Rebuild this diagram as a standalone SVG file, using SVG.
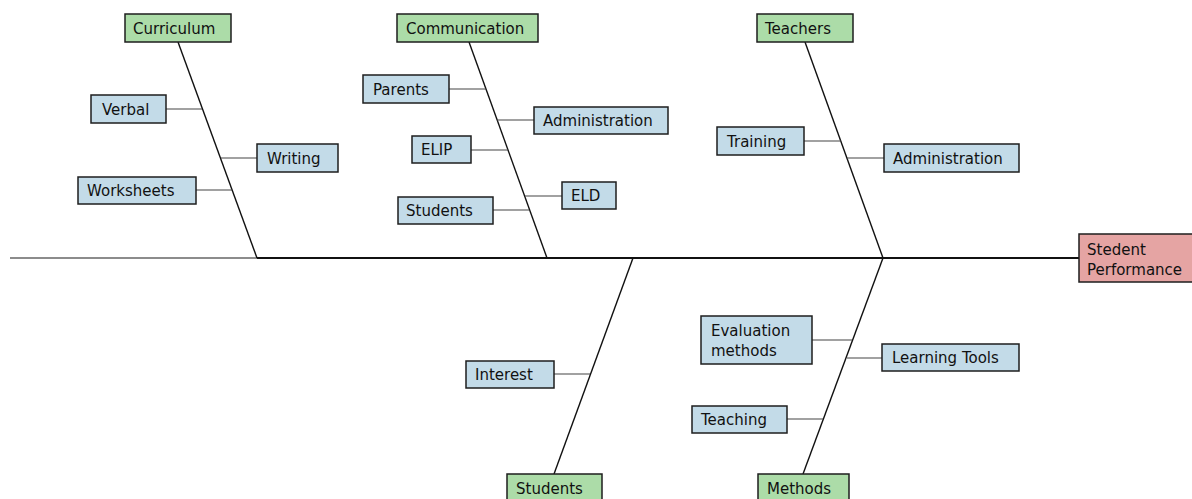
<svg xmlns="http://www.w3.org/2000/svg" width="1192" height="499" viewBox="0 0 1192 499">
  <style>
    .box { stroke: #1e1e1e; stroke-width: 1.5; }
    .cat { fill: #acdca8; }
    .cause { fill: #c3dbe8; }
    .effect { fill: #e5a4a3; }
    text { font-family: "DejaVu Sans", Verdana, sans-serif; font-size: 15px; fill: #111; }
    .bone { stroke: #111; stroke-width: 1.4; fill: none; }
    .twig { stroke: #444; stroke-width: 1.1; fill: none; }
  </style>
  <rect width="1192" height="499" fill="#ffffff"/>

  <!-- connectors: spine, main bones and twigs -->
  <g id="connectors">
    <line x1="10" y1="258" x2="257" y2="258" stroke="#666" stroke-width="1.6"/>
    <line x1="257" y1="258" x2="1079" y2="258" stroke="#111" stroke-width="2"/>
    <line class="bone" x1="178" y1="42" x2="257" y2="258"/>
    <line class="bone" x1="469" y1="42" x2="547" y2="258"/>
    <line class="bone" x1="805" y1="42" x2="883" y2="258"/>
    <line class="bone" x1="633" y1="258" x2="554" y2="474"/>
    <line class="bone" x1="883" y1="258" x2="803" y2="474"/>
    <!-- Curriculum twigs -->
    <line class="twig" x1="166" y1="109" x2="202" y2="109"/>
    <line class="twig" x1="221" y1="158" x2="257" y2="158"/>
    <line class="twig" x1="196" y1="190" x2="232" y2="190"/>
    <!-- Communication twigs -->
    <line class="twig" x1="449" y1="89" x2="486" y2="89"/>
    <line class="twig" x1="497" y1="120" x2="534" y2="120"/>
    <line class="twig" x1="471" y1="150" x2="508" y2="150"/>
    <line class="twig" x1="525" y1="196" x2="562" y2="196"/>
    <line class="twig" x1="493" y1="210" x2="529" y2="210"/>
    <!-- Teachers twigs -->
    <line class="twig" x1="804" y1="141" x2="841" y2="141"/>
    <line class="twig" x1="847" y1="158" x2="884" y2="158"/>
    <!-- Students twig -->
    <line class="twig" x1="554" y1="374" x2="590" y2="374"/>
    <!-- Methods twigs -->
    <line class="twig" x1="812" y1="340" x2="852" y2="340"/>
    <line class="twig" x1="847" y1="358" x2="882" y2="358"/>
    <line class="twig" x1="787" y1="419" x2="823" y2="419"/>
  </g>

  <!-- effect -->
  <g id="effect">
    <rect class="box effect" x="1079" y="234" width="120" height="48"/>
    <text x="1087" y="254.5">Stedent</text>
    <text x="1087" y="274.5">Performance</text>
  </g>

  <!-- categories -->
  <g id="curriculum">
    <rect class="box cat" x="125" y="14" width="106" height="28"/>
    <text x="133" y="33.5">Curriculum</text>
  </g>
  <g id="communication">
    <rect class="box cat" x="397" y="14" width="141" height="28"/>
    <text x="406" y="33.5">Communication</text>
  </g>
  <g id="teachers">
    <rect class="box cat" x="757" y="14" width="96" height="28"/>
    <text x="765" y="33.5">Teachers</text>
  </g>
  <g id="students">
    <rect class="box cat" x="507" y="474" width="95" height="28"/>
    <text x="516" y="493.5">Students</text>
  </g>
  <g id="methods">
    <rect class="box cat" x="758" y="474" width="91" height="28"/>
    <text x="767" y="493.5">Methods</text>
  </g>

  <!-- causes -->
  <g id="verbal">
    <rect class="box cause" x="91" y="95" width="75" height="28"/>
    <text x="102" y="114.5">Verbal</text>
  </g>
  <g id="writing">
    <rect class="box cause" x="257" y="144" width="81" height="28"/>
    <text x="267" y="163.5">Writing</text>
  </g>
  <g id="worksheets">
    <rect class="box cause" x="78" y="177" width="118" height="27"/>
    <text x="87" y="196">Worksheets</text>
  </g>
  <g id="parents">
    <rect class="box cause" x="363" y="75" width="86" height="28"/>
    <text x="373" y="94.5">Parents</text>
  </g>
  <g id="administration-comm">
    <rect class="box cause" x="534" y="107" width="134" height="27"/>
    <text x="543" y="126">Administration</text>
  </g>
  <g id="elip">
    <rect class="box cause" x="412" y="136" width="59" height="27"/>
    <text x="421" y="155">ELIP</text>
  </g>
  <g id="eld">
    <rect class="box cause" x="562" y="182" width="54" height="27"/>
    <text x="571" y="201">ELD</text>
  </g>
  <g id="students-comm">
    <rect class="box cause" x="398" y="197" width="95" height="27"/>
    <text x="406" y="216">Students</text>
  </g>
  <g id="training">
    <rect class="box cause" x="717" y="127" width="87" height="28"/>
    <text x="727" y="146.5">Training</text>
  </g>
  <g id="administration-teach">
    <rect class="box cause" x="884" y="144" width="135" height="28"/>
    <text x="893" y="163.5">Administration</text>
  </g>
  <g id="interest">
    <rect class="box cause" x="466" y="361" width="88" height="27"/>
    <text x="475" y="380">Interest</text>
  </g>
  <g id="evaluation">
    <rect class="box cause" x="701" y="316" width="111" height="48"/>
    <text x="711" y="335.5">Evaluation</text>
    <text x="711" y="355.5">methods</text>
  </g>
  <g id="learning-tools">
    <rect class="box cause" x="882" y="344" width="137" height="27"/>
    <text x="892" y="363">Learning Tools</text>
  </g>
  <g id="teaching">
    <rect class="box cause" x="692" y="406" width="95" height="27"/>
    <text x="701" y="425">Teaching</text>
  </g>
</svg>
